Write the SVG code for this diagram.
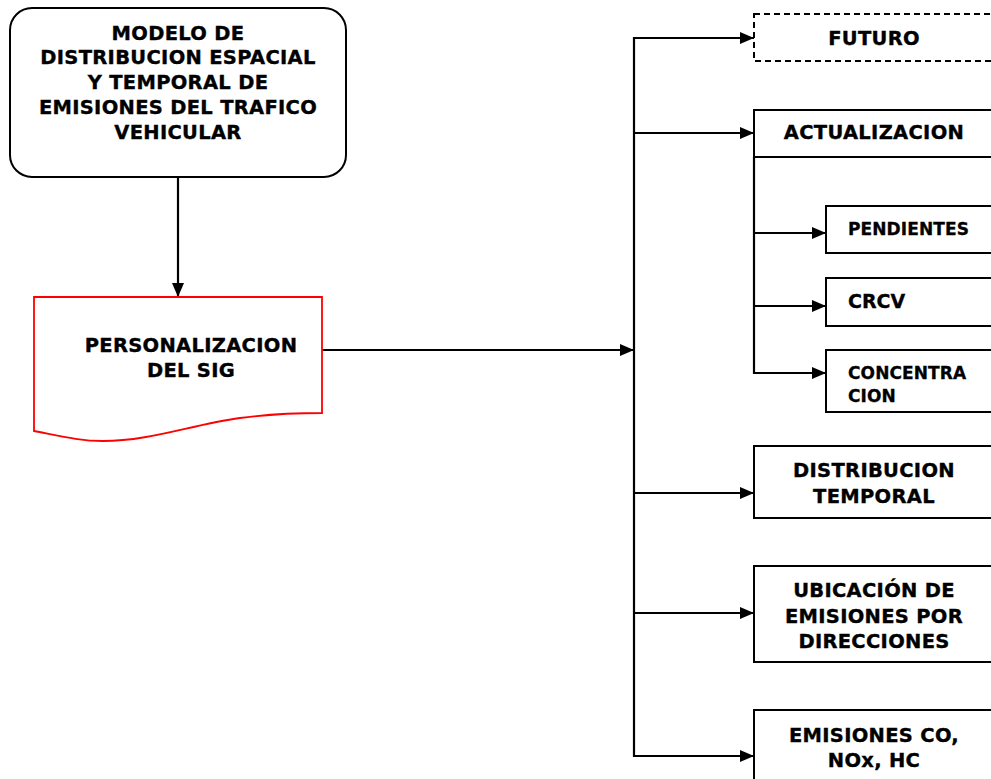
<svg xmlns="http://www.w3.org/2000/svg" width="991" height="779" viewBox="0 0 991 779">
  <style>
    .box { fill: #ffffff; stroke: #000000; stroke-width: 2; }
    .dash { stroke-dasharray: 6 4; }
    .doc { fill: #ffffff; stroke: #ff0000; stroke-width: 1.8; }
    .wire { fill: none; stroke: #000000; stroke-width: 2.2; }
    .t { font-family: "DejaVu Sans", Verdana, sans-serif; font-weight: bold; font-size: 19.5px; letter-spacing: 0.3px; fill: #000000; stroke: #000000; stroke-width: 0.35px; text-anchor: middle; }
    .s { font-family: "DejaVu Sans", Verdana, sans-serif; font-weight: bold; font-size: 17px; letter-spacing: 0.1px; fill: #000000; stroke: #000000; stroke-width: 0.3px; }
  </style>
  <defs>
    <marker id="arrow" viewBox="0 0 14 12" refX="14" refY="6" markerWidth="14" markerHeight="12" markerUnits="userSpaceOnUse" orient="auto">
      <path d="M0,0 L14,6 L0,12 Z" fill="#000000"/>
    </marker>
  </defs>
  <rect width="991" height="779" fill="#ffffff"/>

  <!-- connectors -->
  <g id="connectors">
    <line class="wire" x1="178" y1="177" x2="178" y2="297" marker-end="url(#arrow)"/>
    <line class="wire" x1="322" y1="350" x2="634" y2="350" marker-end="url(#arrow)"/>
    <!-- main trunk -->
    <line class="wire" x1="634" y1="37" x2="634" y2="757"/>
    <line class="wire" x1="633" y1="38" x2="754" y2="38" marker-end="url(#arrow)"/>
    <line class="wire" x1="633" y1="133" x2="754" y2="133" marker-end="url(#arrow)"/>
    <line class="wire" x1="633" y1="493" x2="754" y2="493" marker-end="url(#arrow)"/>
    <line class="wire" x1="633" y1="613" x2="754" y2="613" marker-end="url(#arrow)"/>
    <line class="wire" x1="633" y1="756" x2="754" y2="756" marker-end="url(#arrow)"/>
    <!-- sub trunk under ACTUALIZACION -->
    <line class="wire" x1="754" y1="157" x2="754" y2="374"/>
    <line class="wire" x1="753" y1="233" x2="826" y2="233" marker-end="url(#arrow)"/>
    <line class="wire" x1="753" y1="306" x2="826" y2="306" marker-end="url(#arrow)"/>
    <line class="wire" x1="753" y1="373" x2="826" y2="373" marker-end="url(#arrow)"/>
  </g>

  <g id="modelo">
    <rect class="box" x="10" y="8" width="336" height="169" rx="22" ry="22"/>
    <text class="t" x="178" y="39.5">MODELO DE</text>
    <text class="t" x="178" y="64">DISTRIBUCION ESPACIAL</text>
    <text class="t" x="178" y="89">Y TEMPORAL DE</text>
    <text class="t" x="178" y="114">EMISIONES DEL TRAFICO</text>
    <text class="t" x="178" y="139">VEHICULAR</text>
  </g>

  <g id="personalizacion">
    <path class="doc" d="M34,297 H322 V413 C300,413 270,414 240,418 C190,425 150,441 103,441 C80,441 60,436 34,431 Z"/>
    <text class="t" x="191" y="352">PERSONALIZACION</text>
    <text class="t" x="191" y="377">DEL SIG</text>
  </g>

  <g id="futuro">
    <rect class="box dash" x="754" y="14" width="260" height="47"/>
    <text class="t" x="874" y="44.5">FUTURO</text>
  </g>

  <g id="actualizacion">
    <rect class="box" x="754" y="110" width="260" height="47"/>
    <text class="t" x="874" y="139">ACTUALIZACION</text>
  </g>

  <g id="pendientes">
    <rect class="box" x="826" y="206" width="190" height="47"/>
    <text class="s" x="848" y="235">PENDIENTES</text>
  </g>

  <g id="crcv">
    <rect class="box" x="826" y="278" width="190" height="48"/>
    <text class="s" x="848" y="308" style="font-size:19px;letter-spacing:0px">CRCV</text>
  </g>

  <g id="concentracion">
    <rect class="box" x="826" y="350" width="190" height="62"/>
    <text class="s" x="848" y="379">CONCENTRA</text>
    <text class="s" x="848" y="402">CION</text>
  </g>

  <g id="distribucion-temporal">
    <rect class="box" x="754" y="446" width="260" height="72"/>
    <text class="t" x="874" y="477">DISTRIBUCION</text>
    <text class="t" x="874" y="503">TEMPORAL</text>
  </g>

  <g id="ubicacion">
    <rect class="box" x="754" y="566" width="260" height="96"/>
    <text class="t" x="874" y="597">UBICACIÓN DE</text>
    <text class="t" x="874" y="623">EMISIONES POR</text>
    <text class="t" x="874" y="648">DIRECCIONES</text>
  </g>

  <g id="emisiones">
    <rect class="box" x="754" y="710" width="260" height="90"/>
    <text class="t" x="874" y="742">EMISIONES CO,</text>
    <text class="t" x="874" y="767">NOx, HC</text>
  </g>
</svg>
